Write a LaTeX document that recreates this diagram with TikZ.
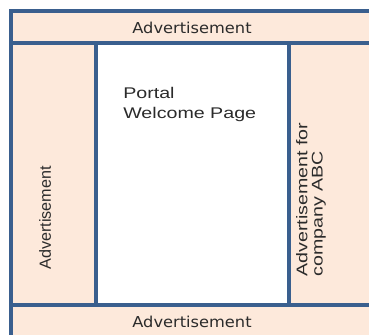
\documentclass[tikz,border=0pt]{standalone}
\usepackage{fontspec}
\setmainfont{Liberation Sans}
\newfontfamily\bandfont[FakeStretch=1.08]{DejaVu Sans}
\newfontfamily\widefont[FakeStretch=1.27]{Liberation Sans}
\definecolor{framecol}{HTML}{3A5F8E}
\definecolor{peach}{HTML}{FDE9DB}
\definecolor{txtcol}{HTML}{2B2B2B}

\begin{document}
\begin{tikzpicture}[x=0.025cm, y=-0.025cm,
  panel/.style={fill=peach, draw=framecol, line width=2.85pt},
  bandtext/.style={inner sep=0pt, text=txtcol, font=\bandfont\fontsize{10.7}{12}\selectfont},
  sidetext/.style={inner sep=0pt, text=txtcol, font=\fontsize{11.5}{13}\selectfont}]
  \useasboundingbox (0,0) rectangle (369,335);
  \filldraw[panel] (11,11) rectangle (374,340);
  \filldraw[panel, fill=white] (96,43) rectangle (289,305);
  \draw[framecol, line width=2.85pt] (11,43) -- (374,43);
  \draw[framecol, line width=2.85pt] (11,305) -- (374,305);
  \node[bandtext] (adtop) at (192,27.5) {Advertisement};
  \node[bandtext] (adbottom) at (192,321.5) {Advertisement};
  \node[sidetext, rotate=90] (adleft) at (45,218) {Advertisement};
  \node[sidetext, font=\widefont\fontsize{11}{11}\selectfont, rotate=90, align=left, anchor=west] (adright) at (311,277) {Advertisement for\\company ABC};
  \node[sidetext, font=\widefont\fontsize{11}{14.2}\selectfont, align=left, anchor=north west] (portal) at (123,87) {Portal\\Welcome Page};
\end{tikzpicture}
\end{document}
